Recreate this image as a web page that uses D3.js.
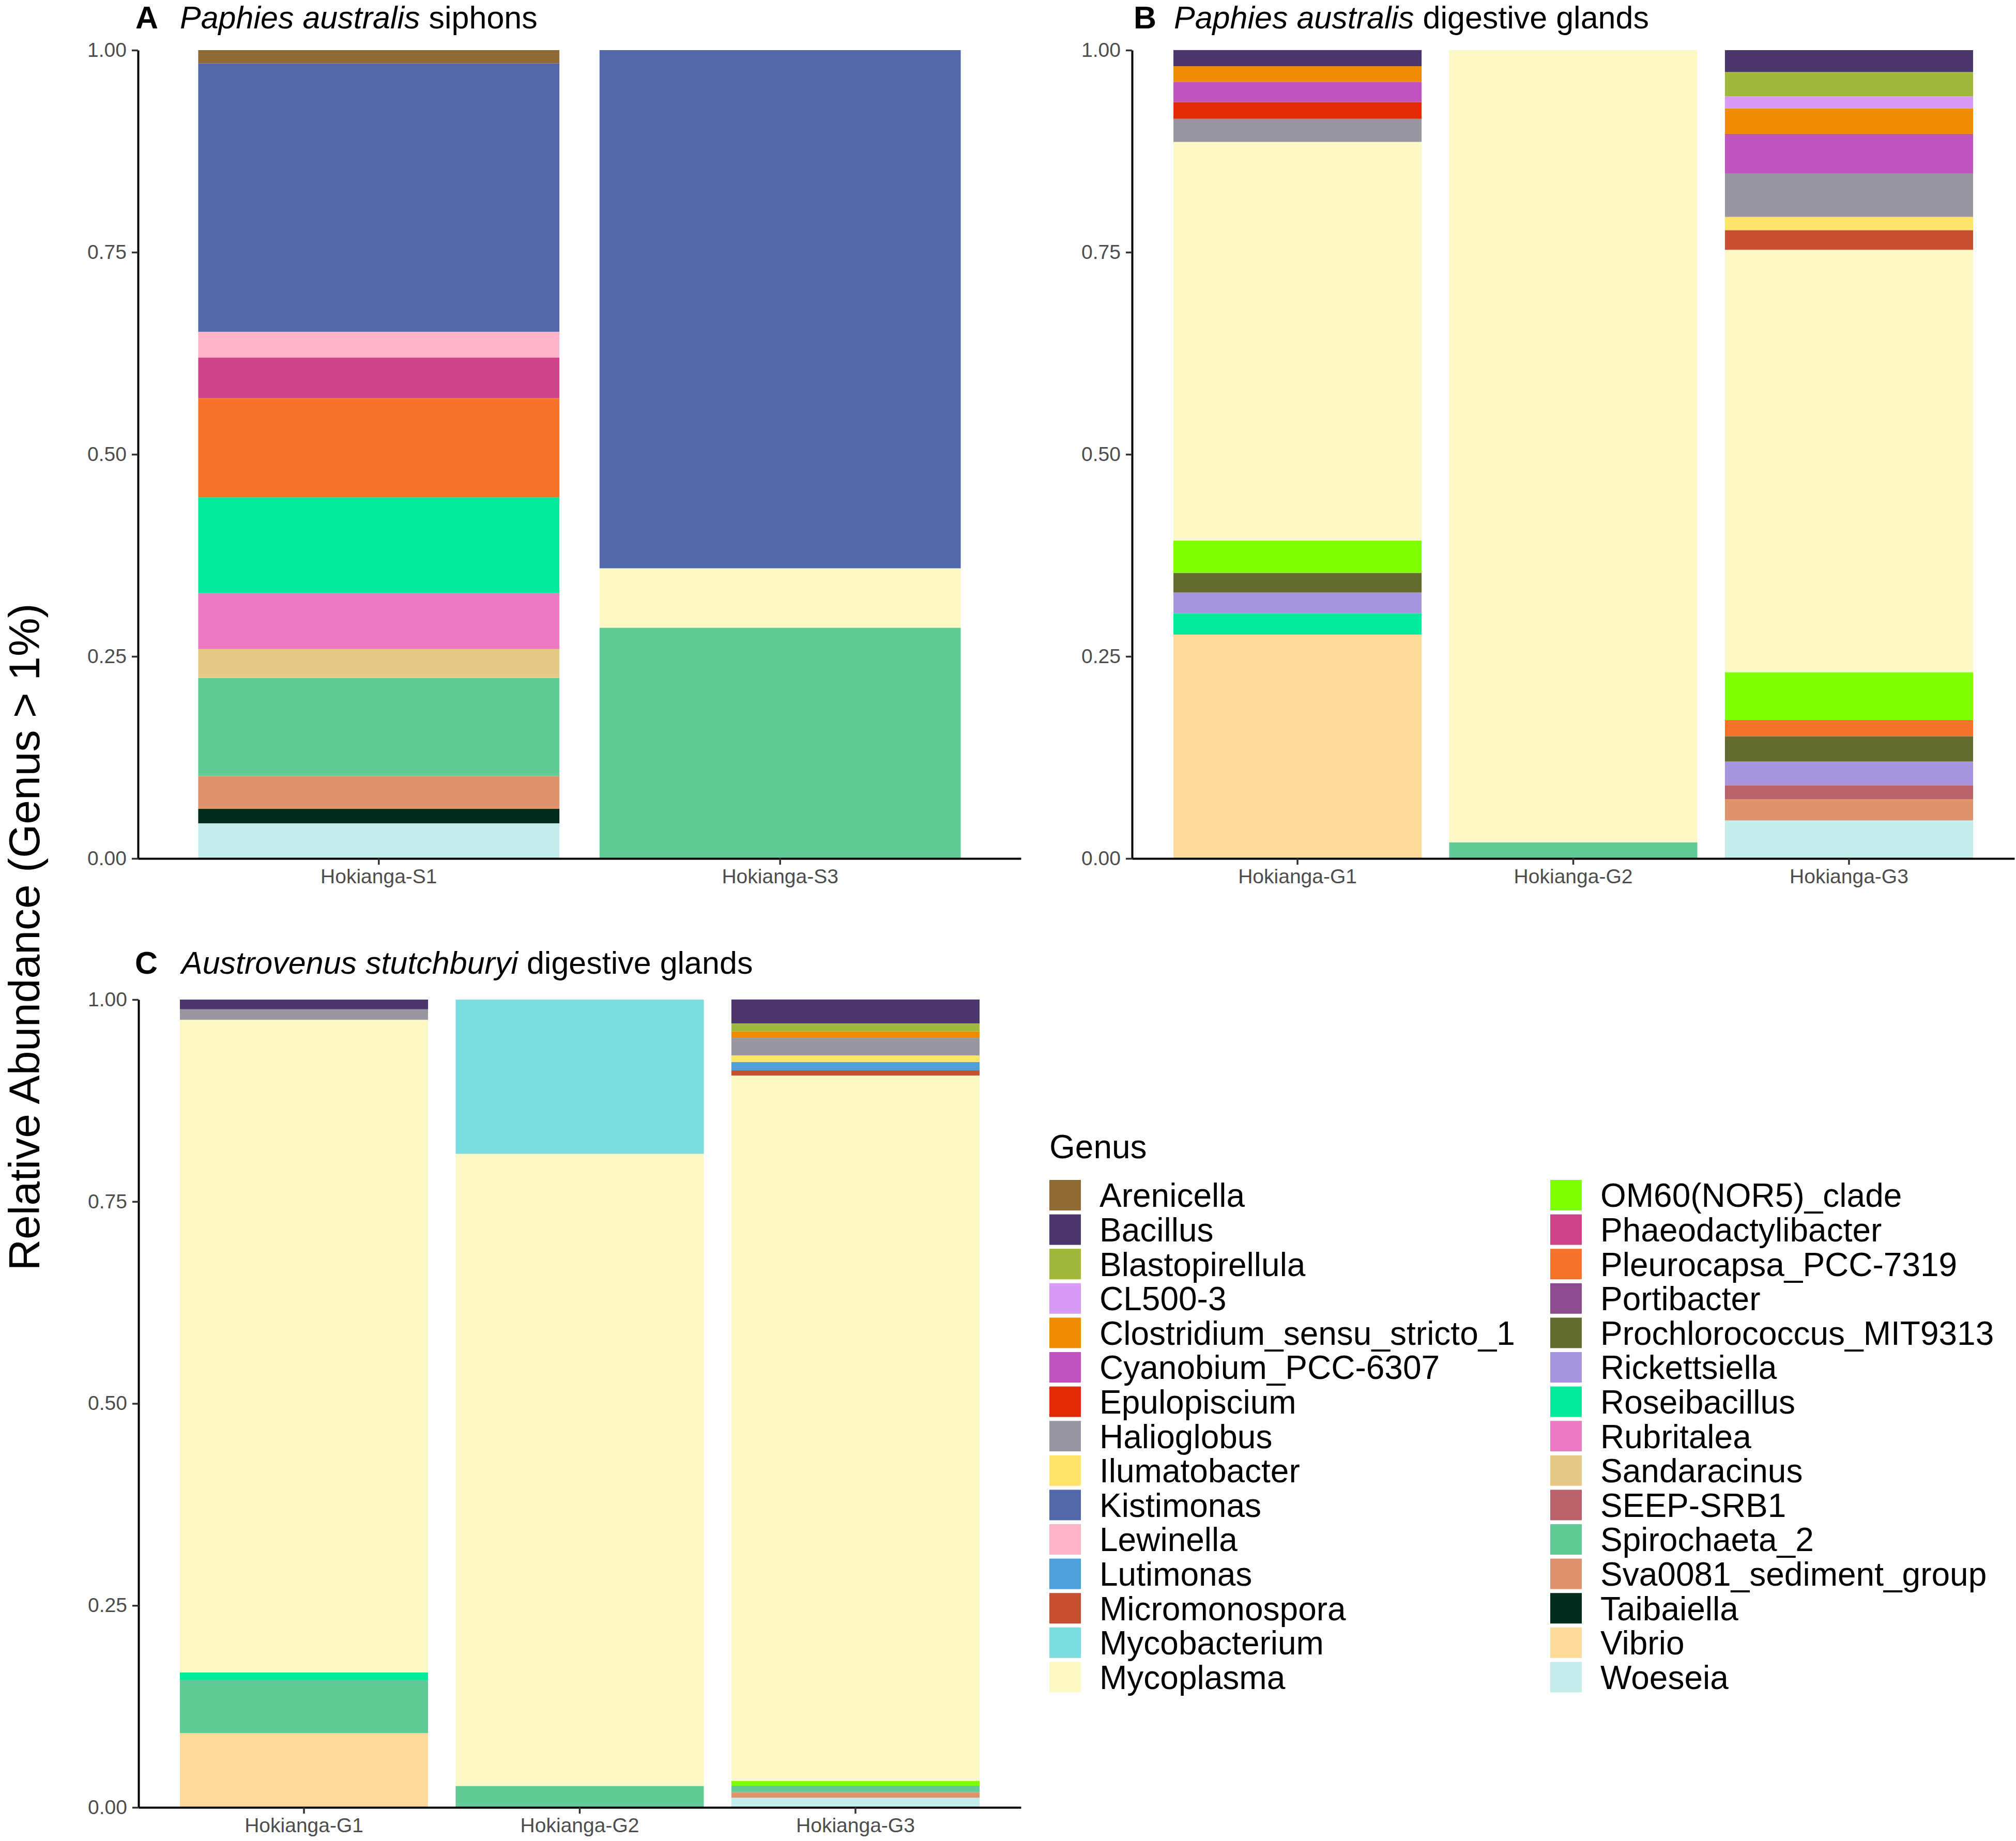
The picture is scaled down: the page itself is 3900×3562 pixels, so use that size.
<!DOCTYPE html>
<html>
<head>
<meta charset="utf-8">
<script src="https://cdn.jsdelivr.net/npm/d3@7"></script>
<style>
  body { margin: 0; background: #fff; }
  text { font-family: "Liberation Sans", Arial, sans-serif; }
</style>
</head>
<body>
<div id="chart"></div>
<script>
// genus list, in legend order (first one is stacked on top)
const genera = ["Arenicella", "Bacillus", "Blastopirellula", "CL500-3", "Clostridium_sensu_stricto_1",
  "Cyanobium_PCC-6307", "Epulopiscium", "Halioglobus", "Ilumatobacter", "Kistimonas", "Lewinella",
  "Lutimonas", "Micromonospora", "Mycobacterium", "Mycoplasma", "OM60(NOR5)_clade",
  "Phaeodactylibacter", "Pleurocapsa_PCC-7319", "Portibacter", "Prochlorococcus_MIT9313",
  "Rickettsiella", "Roseibacillus", "Rubritalea", "Sandaracinus", "SEEP-SRB1", "Spirochaeta_2",
  "Sva0081_sediment_group", "Taibaiella", "Vibrio", "Woeseia"];

const genusColors = ["#8F6A32", "#4B376C", "#A0B93A", "#D99CF6", "#EF8B00",
  "#C054BE", "#E12B06", "#9A96A0", "#FEE569", "#5268AA", "#FDB4C6",
  "#4F9FD8", "#C64F31", "#7BDDDF", "#FCF9C7", "#7FFF00",
  "#CC4489", "#F6732C", "#8C4B8F", "#636B2F",
  "#A796DD", "#00EA9C", "#EC7BC3", "#E7CA87", "#BA626A", "#60CB96",
  "#DF936C", "#002B1E", "#FDDA9A", "#C2EDEB"];

const tickValues = [0, 0.25, 0.5, 0.75, 1];

// A  Paphies australis siphons
const samplesA = ["Hokianga-S1", "Hokianga-S3"];
const siphonS1 = {"Arenicella": 0.0164, "Kistimonas": 0.332, "Lewinella": 0.032, "Phaeodactylibacter": 0.050,
  "Pleurocapsa_PCC-7319": 0.1228, "Roseibacillus": 0.1185, "Rubritalea": 0.0692, "Sandaracinus": 0.0357,
  "Spirochaeta_2": 0.1213, "Sva0081_sediment_group": 0.0407, "Taibaiella": 0.0179, "Woeseia": 0.0435};
const siphonS3 = {"Kistimonas": 0.641, "Mycoplasma": 0.0735, "Spirochaeta_2": 0.2855};

// B  Paphies australis digestive glands
const samplesB = ["Hokianga-G1", "Hokianga-G2", "Hokianga-G3"];
const paphiesG1 = {"Bacillus": 0.020, "Clostridium_sensu_stricto_1": 0.0193, "Cyanobium_PCC-6307": 0.025,
  "Epulopiscium": 0.0207, "Halioglobus": 0.0286, "Mycoplasma": 0.4932, "OM60(NOR5)_clade": 0.040,
  "Prochlorococcus_MIT9313": 0.0243, "Rickettsiella": 0.0256, "Roseibacillus": 0.0264, "Vibrio": 0.277};
const paphiesG2 = {"Mycoplasma": 0.98, "Spirochaeta_2": 0.02};
const paphiesG3 = {"Bacillus": 0.0271, "Blastopirellula": 0.030, "CL500-3": 0.015,
  "Clostridium_sensu_stricto_1": 0.0314, "Cyanobium_PCC-6307": 0.0492, "Halioglobus": 0.0536,
  "Ilumatobacter": 0.0164, "Micromonospora": 0.0243, "Mycoplasma": 0.5225, "OM60(NOR5)_clade": 0.0592,
  "Pleurocapsa_PCC-7319": 0.020, "Prochlorococcus_MIT9313": 0.0314, "Rickettsiella": 0.0293,
  "SEEP-SRB1": 0.0171, "Sva0081_sediment_group": 0.0264, "Woeseia": 0.0471};

// C  Austrovenus stutchburyi digestive glands
const samplesC = ["Hokianga-G1", "Hokianga-G2", "Hokianga-G3"];
const austroG1 = {"Bacillus": 0.012, "Halioglobus": 0.013, "Mycoplasma": 0.808, "Roseibacillus": 0.0095,
  "Spirochaeta_2": 0.0655, "Vibrio": 0.092};
const austroG2 = {"Mycobacterium": 0.191, "Mycoplasma": 0.7824, "Spirochaeta_2": 0.0266};
const austroG3 = {"Bacillus": 0.0296, "Blastopirellula": 0.0099, "Clostridium_sensu_stricto_1": 0.008,
  "Halioglobus": 0.0218, "Ilumatobacter": 0.0081, "Lutimonas": 0.0103, "Micromonospora": 0.0064,
  "Mycoplasma": 0.8732, "OM60(NOR5)_clade": 0.0059, "Spirochaeta_2": 0.0081,
  "Sva0081_sediment_group": 0.0068, "Woeseia": 0.012};

const width = 3900, height = 3562;

const color = d3.scaleOrdinal().domain(genera).range(genusColors);

const svg = d3.select("#chart").append("svg")
    .attr("width", width)
    .attr("height", height)
    .attr("viewBox", [0, 0, width, height]);

svg.append("rect").attr("width", width).attr("height", height).attr("fill", "#fff");

function toRow(sample, abund) {
  const row = {sample: sample};
  genera.forEach(g => row[g] = abund[g] || 0);
  return row;
}

function drawPanel(opts) {
  const rows = opts.samples.map((s, i) => toRow(s, opts.data[i]));

  const x = d3.scaleBand()
      .domain(opts.samples)
      .range([opts.x0, opts.x1])
      .paddingInner(0.1)
      .paddingOuter(0.15);

  const y = d3.scaleLinear()
      .domain([0, 1])
      .range([opts.y1, opts.y0]);

  // first genus sits on top, so stack keys in reverse
  const series = d3.stack().keys(genera.slice().reverse())(rows);

  const g = svg.append("g");

  g.selectAll("g.layer")
    .data(series)
    .join("g")
      .attr("class", "layer")
      .attr("fill", d => color(d.key))
    .selectAll("rect")
    .data(d => d.filter(p => p[1] - p[0] > 0))
    .join("rect")
      .attr("x", d => x(d.data.sample))
      .attr("width", x.bandwidth())
      .attr("y", d => y(d[1]))
      .attr("height", d => y(d[0]) - y(d[1]));

  const yAxis = g.append("g")
      .attr("transform", `translate(${opts.x0},0)`)
      .call(d3.axisLeft(y).tickValues(tickValues).tickFormat(d3.format(".2f"))
        .tickSize(12).tickSizeOuter(0).tickPadding(10));

  const xAxis = g.append("g")
      .attr("transform", `translate(0,${opts.y1})`)
      .call(d3.axisBottom(x).tickSize(12).tickSizeOuter(0).tickPadding(8));

  [xAxis, yAxis].forEach(a => {
    a.select(".domain").attr("stroke", "#000").attr("stroke-width", 4);
    a.selectAll(".tick line").attr("stroke", "#333").attr("stroke-width", 3.5);
    a.selectAll(".tick text").attr("fill", "#4D4D4D").attr("font-size", 39)
      .attr("font-family", "'Liberation Sans', Arial, sans-serif");
  });

  // panel title: bold tag + italic species + plain tissue
  const t = g.append("text")
      .attr("y", opts.titleY)
      .attr("font-size", 61)
      .attr("fill", "#000");
  t.append("tspan").attr("x", opts.tagX).attr("font-weight", "bold").text(opts.tag);
  t.append("tspan").attr("x", opts.titleX).attr("font-style", "italic").text(opts.species);
  t.append("tspan").text(" " + opts.tissue);
}

drawPanel({
  samples: samplesA, data: [siphonS1, siphonS3],
  x0: 267, x1: 1975, y0: 97, y1: 1661,
  tag: "A", species: "Paphies australis", tissue: "siphons",
  tagX: 262, titleX: 348, titleY: 55
});

drawPanel({
  samples: samplesB, data: [paphiesG1, paphiesG2, paphiesG3],
  x0: 2190, x1: 3897, y0: 97, y1: 1661,
  tag: "B", species: "Paphies australis", tissue: "digestive glands",
  tagX: 2193, titleX: 2271, titleY: 55
});

drawPanel({
  samples: samplesC, data: [austroG1, austroG2, austroG3],
  x0: 268, x1: 1975, y0: 1934, y1: 3497,
  tag: "C", species: "Austrovenus stutchburyi", tissue: "digestive glands",
  tagX: 261, titleX: 351, titleY: 1884
});

// shared y axis title
svg.append("text")
    .attr("transform", "translate(76,1813) rotate(-90)")
    .attr("text-anchor", "middle")
    .attr("font-size", 84)
    .attr("fill", "#000")
    .text("Relative Abundance (Genus > 1%)");

// legend, two columns of 15
const legend = svg.append("g");
legend.append("text")
    .attr("x", 2030)
    .attr("y", 2241)
    .attr("font-size", 64)
    .text("Genus");

const perCol = 15;
const colX = [2030, 2999];
const rowY = d3.scaleLinear().domain([0, 1]).range([2283, 2283 + 66.6]);

const item = legend.selectAll("g.item")
  .data(genera)
  .join("g")
    .attr("class", "item")
    .attr("transform", (d, i) => `translate(${colX[Math.floor(i / perCol)]},${rowY(i % perCol)})`);

item.append("rect")
    .attr("width", 61)
    .attr("height", 59)
    .attr("fill", d => color(d));

item.append("text")
    .attr("x", 97)
    .attr("y", 30)
    .attr("dy", "0.35em")
    .attr("font-size", 64)
    .text(d => d);
</script>
</body>
</html>
